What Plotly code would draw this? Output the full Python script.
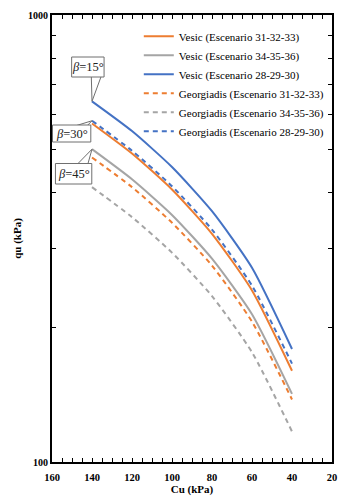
import numpy as np
import plotly.graph_objects as go

# Undrained shear strength (kPa) and bearing capacity qu (kPa)
cu = [140, 120, 100, 80, 60, 40]

vesic_31_32_33 = [572, 490, 407, 324, 242, 160]
vesic_34_35_36 = [501, 429, 357, 285, 214, 142]
vesic_28_29_30 = [641, 550, 457, 364, 272, 179]
georg_31_32_33 = [480, 412, 343, 275, 206, 138]
georg_34_35_36 = [412, 353, 294, 235, 176, 117]
georg_28_29_30 = [580, 497, 414, 331, 248, 166]

x_ticks = [160, 140, 120, 100, 80, 60, 40, 20]
y_ticks = [100, 1000]
y_minor = [200, 300, 400, 500, 600, 700, 800, 900]

ORANGE = "#ED7D31"
GRAY = "#A5A5A5"
BLUE = "#4472C4"
SERIF = "Liberation Serif"

series = [
    ("Vesic (Escenario 31-32-33)", vesic_31_32_33, ORANGE, "solid"),
    ("Vesic (Escenario 34-35-36)", vesic_34_35_36, GRAY, "solid"),
    ("Vesic (Escenario 28-29-30)", vesic_28_29_30, BLUE, "solid"),
    ("Georgiadis (Escenario 31-32-33)", georg_31_32_33, ORANGE, "5px,4px"),
    ("Georgiadis (Escenario 34-35-36)", georg_34_35_36, GRAY, "5px,4px"),
    ("Georgiadis (Escenario 28-29-30)", georg_28_29_30, BLUE, "5px,4px"),
]

fig = go.Figure()
for name, vals, color, dash in series:
    fig.add_trace(go.Scatter(
        x=cu, y=vals, name=name, mode="lines",
        line=dict(color=color, width=2, dash=dash, shape="spline", smoothing=0.6),
    ))

# plot area in pixels (used to place the callouts)
W, H = 339, 499
L, R, T, B = 52, 2, 15, 37
PW, PH = W - L - R, H - T - B
X0, X1 = 160, 20


def px_to_paper(px, py):
    return (px - L) / PW, (H - B - py) / PH


def data_to_px(x, y):
    fx = (x - X0) / (X1 - X0)
    fy = np.log10(y) - 2
    return L + fx * PW, H - B - fy * PH


shapes = []
annotations = []


def callout(label, tip_val, box, base):
    tx, ty = data_to_px(cu[0], tip_val)
    # wedge pointing at the first point of the curve
    b1 = px_to_paper(*base[0])
    b2 = px_to_paper(*base[1])
    tp = px_to_paper(tx, ty)
    shapes.append(dict(
        type="path", xref="paper", yref="paper", layer="above",
        path=f"M {b1[0]},{b1[1]} L {tp[0]},{tp[1]} L {b2[0]},{b2[1]} Z",
        fillcolor="white", line=dict(color="#6f6f6f", width=1),
    ))
    (x0, y0), (x1, y1) = px_to_paper(box[0], box[1]), px_to_paper(box[2], box[3])
    shapes.append(dict(
        type="rect", xref="paper", yref="paper", layer="above",
        x0=x0, x1=x1, y0=y1, y1=y0,
        fillcolor="white", line=dict(color="#6f6f6f", width=1),
    ))
    annotations.append(dict(
        xref="paper", yref="paper", x=(x0 + x1) / 2, y=(y0 + y1) / 2,
        text=label, showarrow=False, xanchor="center", yanchor="middle",
        font=dict(family=SERIF, size=12.5, color="#222"),
    ))


callout("<i>β</i>=15°", vesic_28_29_30[0], (72, 57, 105, 77), ((92, 76.5), (102, 76.5)))
callout("<i>β</i>=30°", georg_28_29_30[0], (52.5, 125, 91.5, 142), ((77, 125.5), (88, 125.5)))
callout("<i>β</i>=45°", vesic_34_35_36[0], (55.5, 163.5, 92.5, 184), ((78, 164), (88.5, 164)))

fig.update_layout(
    width=W, height=H,
    margin=dict(l=L, r=R, t=T, b=B),
    paper_bgcolor="white", plot_bgcolor="white",
    font=dict(family=SERIF, color="black"),
    shapes=shapes, annotations=annotations,
    legend=dict(
        x=0.31, y=0.985, xanchor="left", yanchor="top",
        bgcolor="rgba(0,0,0,0)", borderwidth=0,
        font=dict(family=SERIF, size=11, color="black"),
        tracegroupgap=0,
    ),
    xaxis=dict(
        range=[X0, X1], tickvals=x_ticks,
        ticks="inside", ticklen=4, tickwidth=1, tickcolor="black",
        minor=dict(dtick=5, tick0=0, ticks="inside", ticklen=4, tickwidth=1, tickcolor="black"),
        showline=True, linecolor="black", linewidth=2, mirror="allticks",
        showgrid=False, zeroline=False, ticklabeloverflow="allow",
        ticklabelstandoff=4,
        tickfont=dict(family=SERIF, size=10.5, weight="bold"),
        title=dict(text="<b>Cu (kPa)</b>", font=dict(family=SERIF, size=11), standoff=4),
    ),
    yaxis=dict(
        type="log", range=[2, 3], tickvals=y_ticks, ticktext=[str(v) for v in y_ticks],
        ticks="inside", ticklen=4, tickwidth=1, tickcolor="black",
        minor=dict(tickmode="array", tickvals=y_minor, ticks="inside", ticklen=4,
                   tickwidth=1, tickcolor="black"),
        showline=True, linecolor="black", linewidth=2, mirror="allticks",
        showgrid=False, zeroline=False,
        tickfont=dict(family=SERIF, size=10, weight="bold"),
        title=dict(text="<b>qu (kPa)</b>", font=dict(family=SERIF, size=11), standoff=4),
    ),
)

fig.write_html("out.html")
